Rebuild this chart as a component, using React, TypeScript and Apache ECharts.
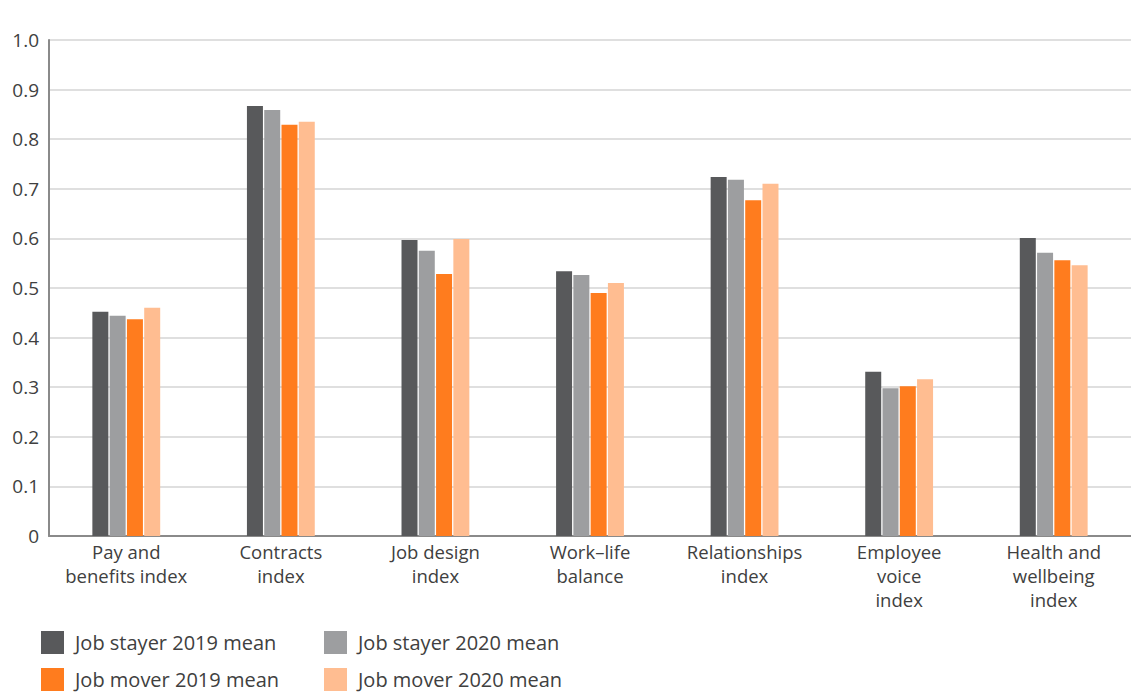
import React, { useEffect, useRef } from "react";
import * as echarts from "echarts";

const categories = [
  "Pay and\nbenefits index",
  "Contracts\nindex",
  "Job design\nindex",
  "Work–life\nbalance",
  "Relationships\nindex",
  "Employee\nvoice\nindex",
  "Health and\nwellbeing\nindex",
];
const seriesNames = [
  "Job stayer 2019 mean",
  "Job stayer 2020 mean",
  "Job mover 2019 mean",
  "Job mover 2020 mean",
];
const stayer2019 = [0.452, 0.867, 0.597, 0.534, 0.724, 0.331, 0.601];
const stayer2020 = [0.444, 0.859, 0.575, 0.526, 0.718, 0.298, 0.571];
const mover2019 = [0.437, 0.829, 0.528, 0.49, 0.677, 0.302, 0.556];
const mover2020 = [0.46, 0.835, 0.599, 0.51, 0.71, 0.316, 0.546];
const colors = ["#58595b", "#9d9ea0", "#ff7c1e", "#ffbd91"];

const FONT = "Open Sans";
const TEXT = "#404040";

export default function App() {
  const ref = useRef<HTMLDivElement>(null);
  useEffect(() => {
    if (!ref.current) return;
    const chart = echarts.init(ref.current, null, { renderer: "svg" });
    const data = [stayer2019, stayer2020, mover2019, mover2020];
    const legendPos = [
      { left: 41, top: 631 },
      { left: 324, top: 631 },
      { left: 41, top: 668 },
      { left: 324, top: 668 },
    ];
    chart.setOption({
      animation: false,
      textStyle: { fontFamily: FONT },
      grid: { left: 49, right: 0, top: 40, bottom: 156, containLabel: false },
      legend: seriesNames.map((n, i) => ({
        data: [n],
        left: legendPos[i].left,
        top: legendPos[i].top,
        icon: "rect",
        itemWidth: 23,
        itemHeight: 23,
        itemGap: 10,
        padding: 0,
        selectedMode: false,
        textStyle: {
          fontFamily: FONT,
          fontSize: 20,
          color: TEXT,
          padding: [0, 0, 0, 6],
        },
      })),
      xAxis: {
        type: "category",
        data: categories,
        axisLine: { show: true, lineStyle: { color: "#8a8a8a", width: 2 } },
        axisTick: { show: false },
        axisLabel: {
          interval: 0,
          fontSize: 18.5,
          lineHeight: 24,
          color: TEXT,
          margin: 3,
          fontFamily: FONT,
        },
      },
      yAxis: {
        type: "value",
        min: 0,
        max: 1,
        interval: 0.1,
        axisLine: { show: true, lineStyle: { color: "#8a8a8a", width: 2 } },
        axisTick: { show: false },
        splitLine: { lineStyle: { color: "#d4d4d4", width: 1.5 } },
        axisLabel: {
          fontSize: 19,
          color: TEXT,
          margin: 10,
          fontFamily: FONT,
          formatter: (v: number) => (v === 0 ? "0" : v.toFixed(1)),
        },
      },
      series: seriesNames.map((n, i) => ({
        name: n,
        type: "bar",
        data: data[i],
        barWidth: 16,
        barGap: "8%",
        itemStyle: { color: colors[i] },
      })),
    });
    return () => chart.dispose();
  }, []);
  return (
    <div
      ref={ref}
      style={{ position: "fixed", left: 0, top: 0, width: 1131, height: 692, background: "#fff" }}
    />
  );
}
